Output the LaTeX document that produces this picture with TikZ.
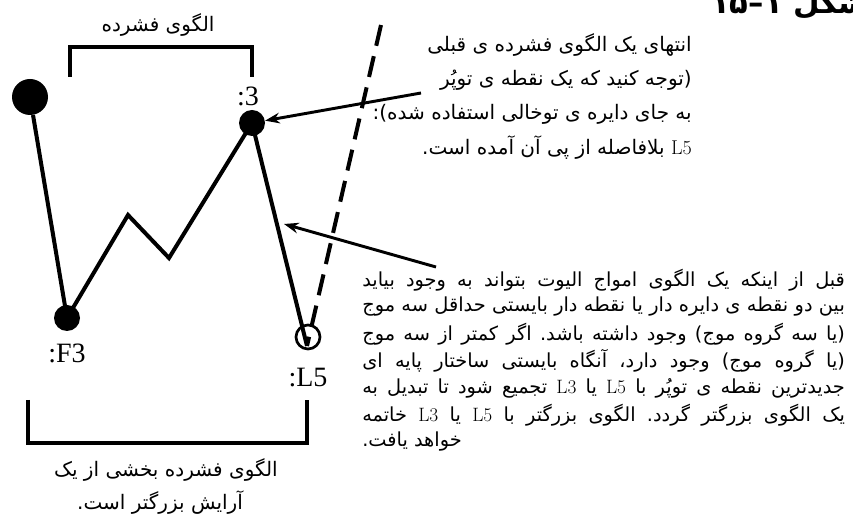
\documentclass[tikz,border=0pt]{standalone}
\usepackage{fontspec}
\setmainfont{Liberation Serif}
\newfontfamily\fafont[Script=Arabic]{DejaVu Sans}
\newfontfamily\lmfont{Latin Modern Roman}
\TeXXeTstate=1
\frenchspacing
\usetikzlibrary{arrows.meta,positioning}
\newcommand{\lat}[1]{\beginL{\lmfont #1}\endL}
\newcommand{\jline}[1]{\hbox to 362pt{\beginR #1\endR}}

\begin{document}
\begin{tikzpicture}[x=0.75pt, y=-0.75pt,
  fa/.style={font=\fafont\fontsize{15}{17}\selectfont, inner sep=0pt},
  para/.style={font=\fafont\fontsize{14.5}{17}\selectfont, inner sep=0pt, anchor=west},
  lbl/.style={font=\fontsize{21}{24}\selectfont, inner sep=0pt},
  bigdot/.style={circle, fill=black, minimum size=27pt, inner sep=0pt},
  dot/.style={circle, fill=black, minimum size=19.5pt, inner sep=0pt},
  opendot/.style={circle, draw=black, line width=2pt, minimum size=18pt, inner sep=0pt},
  wave/.style={line width=3pt, line join=miter},
  guide/.style={line width=3pt, dash pattern=on 16pt off 8pt},
  arr/.style={-{Stealth[length=11pt, width=8pt]}, line width=2.2pt},
  brack/.style={line width=3pt}]
\useasboundingbox (0,0) rectangle (853,523);
% title, cut off by the page edge
\begin{scope}
\clip (0,0) rectangle (853,523);
\node[font=\fafont\bfseries\fontsize{23}{25}\selectfont, inner sep=0pt, anchor=base west]
  (title) at (711,14) {\beginR شکل \beginL ۱–۱۵\endL\endR};
\end{scope}
% wave points
\node[bigdot] (top) at (30,97) {};
\node[dot] (f3) at (67,318) {};
\coordinate (w1) at (128,215);
\coordinate (w2) at (169,258);
\node[dot] (p3) at (252,123) {};
\node[opendot] (l5) at (308,337) {};
\coordinate (l5tip) at (307,346);
\coordinate (dtop) at (381,25);
\node[lbl, above=3pt of p3, xshift=-3pt] (lbl3) {:3};
\node[lbl, below=9pt of f3] (lblf3) {:F3};
\node[lbl, below=13pt of l5] (lbll5) {:L5};
\draw[wave] (top) -- (f3.center) -- (w1) -- (w2) -- (p3.center) -- (l5tip);
\draw[guide] (dtop) -- (l5tip);
% brackets
\draw[brack] (70,77) -- (70,47) -- (252,47) -- (252,77);
\draw[brack] (28,400) -- (28,443) -- (307,443) -- (307,400);
\node[fa] (fold) at (158,25) {\beginR الگوی فشرده\endR};
\node[fa] (part1) at (166,470) {\beginR الگوی فشرده بخشی از یک\endR};
\node[fa] (part2) at (160,503) {\beginR آرایش بزرگتر است.\endR};
% note on the end point
\node[fa, anchor=east] (n1) at (692,45) {\beginR انتهای یک الگوی فشرده ی قبلی\endR};
\node[fa, anchor=east] (n2) at (692,80) {\beginR (توجه کنید که یک نقطه ی توپُر\endR};
\node[fa, anchor=east] (n3) at (692,114) {\beginR به جای دایره ی توخالی استفاده شده):\endR};
\node[fa, anchor=east] (n4) at (692,148) {\beginR \lat{L5} بلافاصله از پی آن آمده است.\endR};
\coordinate (a1) at (421,93);
% note on the rule
\node[para] (r1) at (362,280) {\jline{قبل از اینکه یک الگوی امواج الیوت بتواند به وجود بیاید}};
\node[para] (r2) at (362,307) {\jline{بین دو نقطه ی دایره دار یا نقطه دار بایستی حداقل سه موج}};
\node[para] (r3) at (362,334) {\jline{(یا سه گروه موج) وجود داشته باشد. اگر کمتر از سه موج}};
\node[para] (r4) at (362,361) {\jline{(یا گروه موج) وجود دارد، آنگاه بایستی ساختار پایه ای}};
\node[para] (r5) at (362,388) {\jline{جدیدترین نقطه ی توپُر با \lat{L5} یا \lat{L3} تجمیع شود تا تبدیل به}};
\node[para] (r6) at (362,415) {\jline{یک الگوی بزرگتر گردد. الگوی بزرگتر با \lat{L5} یا \lat{L3} خاتمه}};
\node[para] (r7) at (362,442) {\beginR خواهد یافت.\endR};
\coordinate (a2) at (436,267);
\coordinate (a2tip) at (284,224);
\draw[arr] (a1) -- (p3);
\draw[arr] (a2) -- (a2tip);
\end{tikzpicture}
\end{document}
